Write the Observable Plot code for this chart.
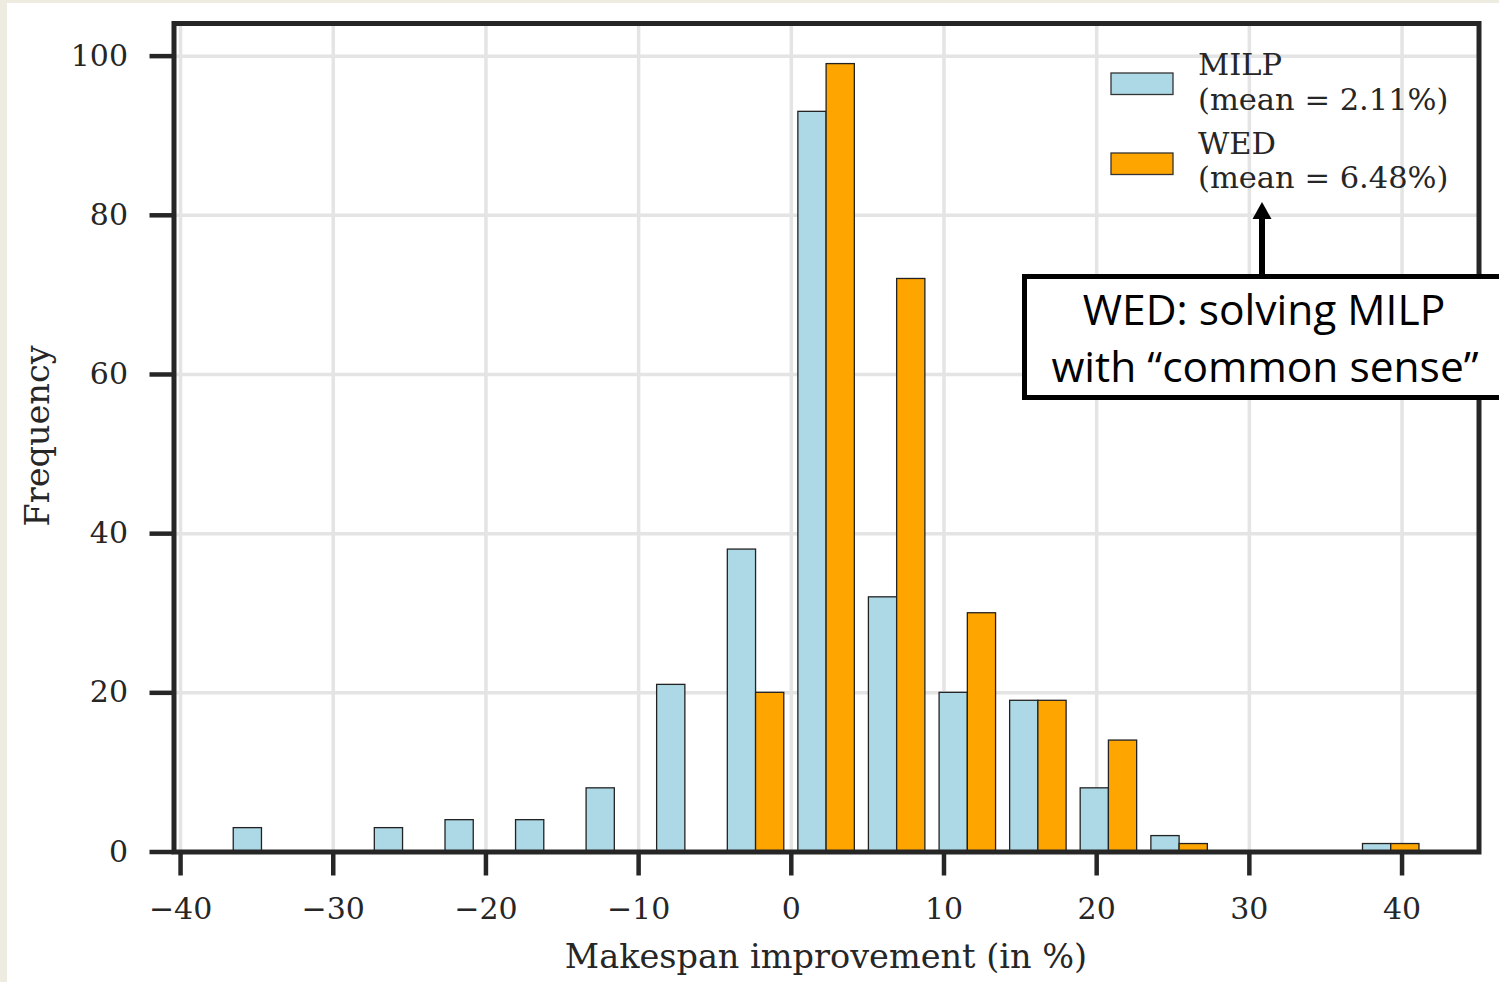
<!DOCTYPE html>
<html>
<head>
<meta charset="utf-8">
<script src="https://cdn.jsdelivr.net/npm/d3@7"></script>
<script src="https://cdn.jsdelivr.net/npm/@observablehq/plot@0.6"></script>
<style>
  html, body { margin: 0; padding: 0; }
  body { width: 1499px; height: 982px; background: #eeebe0; position: relative; overflow: hidden; }
  #panel { position: absolute; left: 7px; top: 3px; width: 1492px; height: 979px; background: #ffffff; }
  #chart { position: absolute; left: 0; top: 0; }
  .lbl { position: absolute; font-family: "DejaVu Serif", serif; font-size: 33.5px; color: #262626; white-space: nowrap; }
  #overlay { position: absolute; left: 0; top: 0; overflow: visible; }
</style>
</head>
<body>
<div id="panel"><div id="chart"></div></div>
<div class="lbl" id="ylabel" style="left:37px; top:436px; transform: translate(-50%,-50%) rotate(-90deg);">Frequency</div>
<div class="lbl" id="xlabel" style="left:826px; top:956px; transform: translate(-50%,-50%);">Makespan improvement (in %)</div>
<svg id="overlay" width="1499" height="982"></svg>
<script>
// ---- data ----
const binStarts = [-36.98, -32.36, -27.74, -23.11, -18.49, -13.87, -9.25, -4.62, 0.00, 4.62, 9.25, 13.87, 18.49, 23.12, 27.74, 32.36, 36.98];
const binWidth = 4.623;
const milpCounts = [3, 0, 3, 4, 4, 8, 21, 38, 93, 32, 20, 19, 8, 2, 0, 0, 1];
const wedCounts  = [0, 0, 0, 0, 0, 0, 0, 20, 99, 72, 30, 19, 14, 1, 0, 0, 1];
const seriesNames = ["MILP", "WED"];
const seriesLabels = ["(mean = 2.11%)", "(mean = 6.48%)"];
const seriesColors = ["#add8e6", "#ffa500"];
const xTicks = [-40, -30, -20, -10, 0, 10, 20, 30, 40];
const yTicks = [0, 20, 40, 60, 80, 100];
const annotationLines = ["WED: solving MILP", "with \u201Ccommon sense\u201D"];

// matplotlib-style grouped histogram: 80% of bin shared by two series
const rows = [];
binStarts.forEach((b, i) => {
  [milpCounts, wedCounts].forEach((counts, s) => {
    if (counts[i] > 0) {
      rows.push({
        series: seriesNames[s],
        x1: b + binWidth * (0.1 + 0.4 * s),
        x2: b + binWidth * (0.5 + 0.4 * s),
        count: counts[i]
      });
    }
  });
});

const fmt = d3.format("d");
const ink = "#262626";

const chart = Plot.plot({
  width: 1492,
  height: 979,
  marginLeft: 166.5,
  marginRight: 20.5,
  marginTop: 20,
  marginBottom: 130.5,
  style: { fontFamily: "DejaVu Serif, serif", fontSize: "30px", color: ink, background: "transparent" },
  x: { domain: [-40.43, 45.04] },
  y: { domain: [0, 104.1] },
  color: { domain: seriesNames, range: seriesColors },
  marks: [
    Plot.gridX(xTicks, { stroke: "#e4e4e4", strokeWidth: 3.5, strokeOpacity: 1 }),
    Plot.gridY(yTicks, { stroke: "#e4e4e4", strokeWidth: 3.5, strokeOpacity: 1 }),
    Plot.rect(rows, { x1: "x1", x2: "x2", y1: 0, y2: "count", fill: "series", stroke: "#222", strokeWidth: 1.3 }),
    Plot.axisX(xTicks, { tickSize: 24, tickPadding: 22, strokeWidth: 4.5, stroke: ink, tickFormat: fmt, label: null, fill: ink }),
    Plot.axisY(yTicks, { tickSize: 24, tickPadding: 22, strokeWidth: 4.5, stroke: ink, tickFormat: fmt, label: null, fill: ink }),
    Plot.frame({ stroke: ink, strokeWidth: 5 })
  ]
});
document.getElementById("chart").appendChild(chart);

// ---- overlay: legend + annotation (page coordinates) ----
const ns = "http://www.w3.org/2000/svg";
const ov = document.getElementById("overlay");
function el(tag, attrs, text) {
  const e = document.createElementNS(ns, tag);
  for (const k in attrs) e.setAttribute(k, attrs[k]);
  if (text != null) e.textContent = text;
  ov.appendChild(e);
  return e;
}
// legend
const legendPatchY = [73, 153];
const legendBase = [[75, 110], [154, 188]];
seriesNames.forEach((name, i) => {
  el("rect", { x: 1111, y: legendPatchY[i], width: 62, height: 21.5, fill: seriesColors[i], stroke: "#333", "stroke-width": 1.3 });
  el("text", { x: 1198, y: legendBase[i][0], "font-family": "DejaVu Serif, serif", "font-size": 30.5, fill: ink }, name);
  el("text", { x: 1198, y: legendBase[i][1], "font-family": "DejaVu Serif, serif", "font-size": 30.5, fill: ink }, seriesLabels[i]);
});
// arrow
el("line", { x1: 1262, y1: 278, x2: 1262, y2: 215, stroke: "#000", "stroke-width": 6 });
el("polygon", { points: "1262,202 1252.5,219 1271.5,219", fill: "#000" });
// annotation box
el("rect", { x: 1024.5, y: 276.5, width: 600, height: 121, fill: "#fff", stroke: "#000", "stroke-width": 5 });
el("text", { x: 1264, y: 325, "text-anchor": "middle", "font-family": "Open Sans, sans-serif", "font-size": 42.5, fill: "#000" }, annotationLines[0]);
el("text", { x: 1265, y: 382, "text-anchor": "middle", "font-family": "Open Sans, sans-serif", "font-size": 42.5, fill: "#000" }, annotationLines[1]);
</script>
</body>
</html>
